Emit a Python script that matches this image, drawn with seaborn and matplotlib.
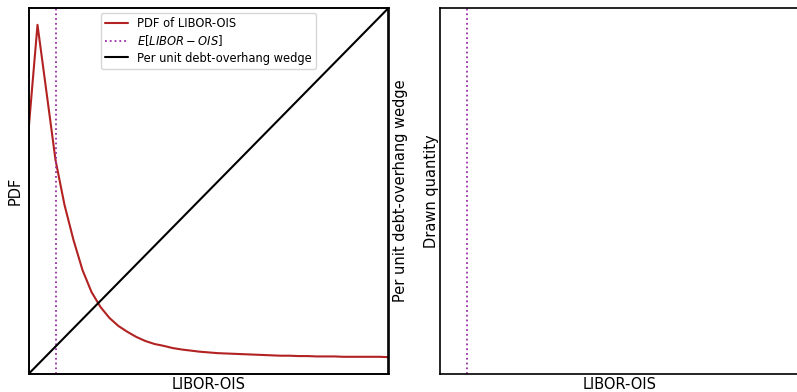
import numpy as np
import pandas as pd
import matplotlib
matplotlib.use("Agg")
import matplotlib.pyplot as plt
import seaborn as sns

# ---- data ----
libor_ois = [i * 0.025 for i in range(41)]
pdf_values = [0.665, 0.954, 0.770, 0.585, 0.462, 0.366, 0.284, 0.224, 0.183, 0.153,
              0.131, 0.115, 0.101, 0.090, 0.082, 0.077, 0.071, 0.067, 0.064, 0.061,
              0.059, 0.057, 0.056, 0.055, 0.054, 0.053, 0.052, 0.051, 0.050, 0.050,
              0.049, 0.049, 0.048, 0.048, 0.048, 0.047, 0.047, 0.047, 0.047, 0.047,
              0.046]
wedge_x = [0.0, 1.0]
wedge_values = [0.0, 1.0]
expected_libor_ois = 0.076

sns.set_style("white")
plt.rcParams['font.family'] = ['DejaVu Sans']
plt.rcParams['text.color'] = 'black'
plt.rcParams['axes.labelcolor'] = 'black'

fig = plt.figure(figsize=(7.97, 3.92), dpi=100)
W, H = 797, 392
ax1 = fig.add_axes([28.5 / W, 18 / H, 360 / W, 366 / H])
ax3 = fig.add_axes([440 / W, 18 / H, 360 / W, 366 / H])

pdf_color = "firebrick"
mean_color = "#9a2fa8"

df = pd.DataFrame({"x": libor_ois, "pdf": pdf_values})
sns.lineplot(data=df, x="x", y="pdf", ax=ax1, color=pdf_color, lw=1.5,
             label="PDF of LIBOR-OIS", legend=False)
ax1.axvline(expected_libor_ois, ls=":", color=mean_color, lw=1.3,
            label=r"$E[LIBOR-OIS]$")
ax1.set_xlim(0, 1)
ax1.set_ylim(0, 1)
ax1.set_xticks([])
ax1.set_yticks([])
ax1.set_xlabel("LIBOR-OIS", fontsize=10.5, labelpad=2)
ax1.set_ylabel("PDF", fontsize=10.5, labelpad=4)

ax2 = ax1.twinx()
wdf = pd.DataFrame({"x": wedge_x, "w": wedge_values})
sns.lineplot(data=wdf, x="x", y="w", ax=ax2, color="black", lw=1.5,
             label="Per unit debt-overhang wedge", legend=False)
ax2.set_ylim(0, 1)
ax2.set_xlim(0, 1)
ax2.set_yticks([])
ax2.set_ylabel("Per unit debt-overhang wedge", fontsize=10.5, labelpad=3)

h1, l1 = ax1.get_legend_handles_labels()
h2, l2 = ax2.get_legend_handles_labels()
ax2.legend(h1 + h2, l1 + l2, loc="upper center", fontsize=8.3,
           frameon=True, borderaxespad=0.4, labelspacing=0.3,
           borderpad=0.35)

ax3.axvline(expected_libor_ois, ls=":", color=mean_color, lw=1.3)
ax3.set_xlim(0, 1)
ax3.set_ylim(0, 1)
ax3.set_xticks([])
ax3.set_yticks([])
ax3.set_xlabel("LIBOR-OIS", fontsize=10.5, labelpad=2)
ax3.set_ylabel("Drawn quantity", fontsize=10.5, labelpad=1)

for a in (ax1, ax2, ax3):
    for s in a.spines.values():
        s.set_color("black")
        s.set_linewidth(1.2)

fig.savefig("out.png", dpi=100)
